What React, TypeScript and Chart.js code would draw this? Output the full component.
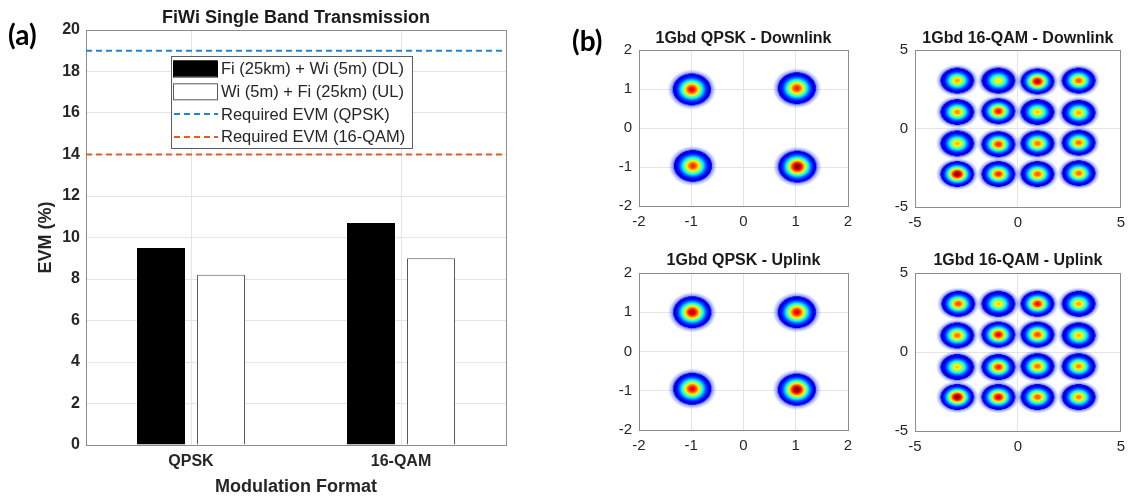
import React, { useEffect, useRef } from 'react';
import { Chart, registerables } from 'chart.js';

Chart.register(...registerables);

const FONT = "'Liberation Sans', Arial, Helvetica, sans-serif";
const TEXT = '#262626';
const AXIS = '#8c8c8c';
const GRID = '#e4e4e4';

// ---------- (a) EVM bar chart ----------
const CATEGORIES = ['QPSK', '16-QAM'];
const DL_LABEL = 'Fi (25km) + Wi (5m) (DL)';
const UL_LABEL = 'Wi (5m) + Fi (25km) (UL)';
const EVM_DL = [9.5, 10.7];
const EVM_UL = [8.2, 9.0];
const REQ_QPSK_LABEL = 'Required EVM (QPSK)';
const REQ_16QAM_LABEL = 'Required EVM (16-QAM)';
const REQ_EVM_QPSK = 19;
const REQ_EVM_16QAM = 14;
const EVM_MIN = 0;
const EVM_MAX = 20;
const EVM_STEP = 2;

// ---------- (b) constellations: cluster centres (I, Q) and relative peak density ----------
const QPSK_RANGE = 2;
const QPSK_STEP = 1;
const QAM16_RANGE = 5;
const QAM16_STEP = 5;

const QPSK_DL_CENTRES = [[-0.99, 0.99], [1.02, 1.02], [-0.97, -0.97], [1.03, -0.99]];
const QPSK_DL_PEAKS = [0.9, 0.85, 0.84, 1.0];
const QPSK_UL_CENTRES = [[-0.98, 1.0], [1.02, 1.0], [-0.98, -0.95], [1.02, -0.97]];
const QPSK_UL_PEAKS = [0.95, 0.9, 0.9, 1.0];
const QPSK_SPREAD = [0.36, 0.4];

const QAM16_DL_CENTRES = [
  [-2.95, 3.05], [-0.95, 3.05], [0.95, 3.0], [2.95, 3.05],
  [-2.95, 1.05], [-0.95, 1.1], [0.95, 1.05], [2.95, 1.0],
  [-2.95, -0.95], [-0.95, -1.0], [0.95, -0.95], [2.95, -0.9],
  [-2.95, -2.9], [-0.95, -2.9], [0.95, -2.9], [2.95, -2.85],
];
const QAM16_DL_PEAKS = [0.72, 0.65, 0.95, 0.8, 0.75, 0.88, 0.68, 0.72, 0.7, 0.85, 0.78, 0.78, 1.0, 0.85, 0.8, 0.78];
const QAM16_UL_CENTRES = [
  [-2.9, 3.05], [-0.95, 3.05], [0.95, 3.05], [2.95, 3.05],
  [-2.95, 1.05], [-0.95, 1.1], [0.95, 1.1], [2.95, 1.05],
  [-2.95, -0.95], [-0.95, -0.95], [0.95, -0.9], [2.95, -0.9],
  [-2.95, -2.85], [-0.95, -2.85], [0.95, -2.85], [2.95, -2.85],
];
const QAM16_UL_PEAKS = [0.82, 0.68, 0.88, 0.72, 0.78, 0.9, 0.82, 0.7, 0.68, 0.85, 0.78, 0.75, 1.0, 0.92, 0.8, 0.75];
const QAM16_SPREAD = [0.8, 0.8];

Chart.defaults.font.family = FONT;

function jet(v: number): string {
  const c = (t: number) => Math.round(255 * Math.min(1, Math.max(0, t)));
  return `rgb(${c(1.5 - Math.abs(4 * v - 3))},${c(1.5 - Math.abs(4 * v - 2))},${c(1.5 - Math.abs(4 * v - 1))})`;
}

const spriteCache = new Map<string, HTMLCanvasElement>();
function clusterSprite(peak: number, rx: number, ry: number): HTMLCanvasElement {
  const key = `${peak}|${rx.toFixed(2)}|${ry.toFixed(2)}`;
  const hit = spriteCache.get(key);
  if (hit) return hit;
  const HALO = 1.3;
  const hx = rx * HALO;
  const hy = ry * HALO;
  const c = document.createElement('canvas');
  c.width = Math.ceil(hx) * 2 + 2;
  c.height = Math.ceil(hy) * 2 + 2;
  const g = c.getContext('2d')!;
  g.translate(c.width / 2, c.height / 2);
  g.scale(1, ry / rx);
  const grad = g.createRadialGradient(0, 0, 0, 0, 0, hx);
  const N = 24;
  for (let i = 0; i <= N; i++) {
    const s = i / N;
    const v = Math.max(0.1, peak * Math.exp(-((s / 0.6) ** 2)));
    grad.addColorStop(s / HALO, jet(v));
  }
  grad.addColorStop(1 / HALO + 0.02, 'rgba(20,40,255,0.55)');
  grad.addColorStop(0.9, 'rgba(60,80,255,0.25)');
  grad.addColorStop(1, 'rgba(90,110,255,0)');
  g.fillStyle = grad;
  g.beginPath();
  g.arc(0, 0, hx, 0, Math.PI * 2);
  g.fill();
  spriteCache.set(key, c);
  return c;
}

// bar series (shared by the bar chart and the legend)
const BAR_SERIES = [
  { label: DL_LABEL, data: EVM_DL, backgroundColor: '#000000', borderColor: '#000000' },
  { label: UL_LABEL, data: EVM_UL, backgroundColor: '#ffffff', borderColor: '#5a5a5a' },
];

const boxLegend = {
  id: 'boxLegend',
  afterDraw(chart: any) {
    const ca = chart.chartArea;
    const ctx = chart.ctx;
    const x0 = ca.left + 85;
    const y0 = ca.top + 26;
    const w = 241;
    const h = 92;
    const items = [
      ...BAR_SERIES.map((s) => ({ ...s, type: 'bar' })),
      ...chart.data.datasets.map((d: any) => ({ ...d, type: 'line' })),
    ];
    ctx.save();
    ctx.fillStyle = '#ffffff';
    ctx.fillRect(x0, y0, w, h);
    ctx.strokeStyle = '#5e5e5e';
    ctx.lineWidth = 1;
    ctx.strokeRect(x0 + 0.5, y0 + 0.5, w, h);
    items.forEach((ds: any, i: number) => {
      const cy = y0 + 12.5 + i * 22.8;
      if (ds.type === 'line') {
        ctx.save();
        ctx.setLineDash(ds.borderDash || []);
        ctx.strokeStyle = ds.borderColor;
        ctx.lineWidth = ds.borderWidth;
        ctx.beginPath();
        ctx.moveTo(x0 + 3, cy);
        ctx.lineTo(x0 + 47, cy);
        ctx.stroke();
        ctx.restore();
      } else {
        ctx.fillStyle = ds.backgroundColor;
        ctx.fillRect(x0 + 2, cy - 8, 44, 16);
        ctx.strokeStyle = ds.borderColor;
        ctx.lineWidth = 1;
        ctx.strokeRect(x0 + 2.5, cy - 7.5, 44, 16);
      }
      ctx.fillStyle = TEXT;
      ctx.font = `16.5px ${FONT}`;
      ctx.textAlign = 'left';
      ctx.textBaseline = 'middle';
      ctx.fillText(ds.label, x0 + 50, cy + 1);
    });
    ctx.restore();
  },
};

const A_W = 560;
const A_H = 500;
const A_LEFT = 86;
const A_RIGHT_PAD = 54;
const A_TOP = 30;
const A_BOTTOM = 55;

function EvmBars() {
  const ref = useRef<HTMLCanvasElement>(null);
  const overlayRef = useRef<HTMLCanvasElement>(null);
  useEffect(() => {
    const tickFont = { family: FONT, size: 16, weight: 'bold' as const };
    const titleFont = { family: FONT, size: 18, weight: 'bold' as const };
    const chart = new Chart(ref.current!, {
      type: 'bar',
      data: {
        labels: CATEGORIES,
        datasets: BAR_SERIES.map((s) => ({
          ...s, borderWidth: 1, categoryPercentage: 0.5714, barPercentage: 0.8,
        })),
      },
      options: {
        animation: false,
        responsive: false,
        layout: { padding: { left: 0, right: A_RIGHT_PAD, top: 0, bottom: 0 } },
        plugins: { legend: { display: false }, tooltip: { enabled: false }, title: { display: false } },
        scales: {
          x: {
            type: 'category', offset: true,
            grid: { offset: false, color: GRID, drawTicks: false },
            border: { color: AXIS },
            ticks: { font: tickFont, color: TEXT, padding: 7 },
            title: { display: true, text: 'Modulation Format', font: titleFont, color: TEXT, padding: { top: 0, bottom: 2 } },
            afterFit: (s: any) => { s.height = A_BOTTOM; },
          },
          x2: {
            type: 'linear', position: 'top', offset: false, min: 0, max: 1,
            ticks: { display: false }, grid: { display: false, drawTicks: false },
            border: { color: AXIS },
            title: { display: true, text: 'FiWi Single Band Transmission', font: titleFont, color: '#1a1a1a', padding: { top: 7, bottom: 0 } },
            afterFit: (s: any) => { s.height = A_TOP; },
          },
          y: {
            type: 'linear', min: EVM_MIN, max: EVM_MAX,
            ticks: { stepSize: EVM_STEP, font: tickFont, color: TEXT, padding: 6 },
            grid: { color: GRID, drawTicks: false },
            border: { color: AXIS },
            title: { display: true, text: 'EVM (%)', font: titleFont, color: TEXT, padding: { top: 35, bottom: 0 } },
            afterFit: (s: any) => { s.width = A_LEFT; },
          },
          y2: {
            type: 'linear', position: 'right', min: EVM_MIN, max: EVM_MAX,
            ticks: { display: false }, grid: { display: false, drawTicks: false },
            border: { color: AXIS },
            afterFit: (s: any) => { s.width = 0; },
          },
        } as any,
      },
    });

    // required-EVM lines on a transparent overlay sharing the same plot area
    const reqLine = (v: number) => [
      { x: 0.5, y: v },
      { x: CATEGORIES.length + 0.5, y: v },
    ];
    const overlay = new Chart(overlayRef.current!, {
      type: 'line',
      data: {
        datasets: [
          { label: REQ_QPSK_LABEL, data: reqLine(REQ_EVM_QPSK), borderColor: '#1f84d6', borderDash: [6, 4], borderWidth: 2, pointRadius: 0 },
          { label: REQ_16QAM_LABEL, data: reqLine(REQ_EVM_16QAM), borderColor: '#e35a24', borderDash: [6, 4], borderWidth: 2, pointRadius: 0 },
        ],
      },
      options: {
        animation: false,
        responsive: false,
        layout: { padding: { left: A_LEFT, right: A_RIGHT_PAD, top: A_TOP, bottom: A_BOTTOM } },
        plugins: { legend: { display: false }, tooltip: { enabled: false } },
        scales: {
          x: { type: 'linear', display: false, min: 0.5, max: CATEGORIES.length + 0.5 },
          y: { type: 'linear', display: false, min: EVM_MIN, max: EVM_MAX },
        },
      },
      plugins: [boxLegend],
    });
    return () => {
      chart.destroy();
      overlay.destroy();
    };
  }, []);
  return (
    <>
      <canvas ref={ref} width={A_W} height={A_H} style={{ position: 'absolute', left: 0, top: 0 }} />
      <canvas ref={overlayRef} width={A_W} height={A_H} style={{ position: 'absolute', left: 0, top: 0 }} />
    </>
  );
}

type ConstProps = {
  left: number; top: number; width: number; height: number;
  title: string; centres: number[][]; peaks: number[]; spread: number[];
  range: number; step: number;
  yAxisW: number; topH: number; bottomH: number; padRight: number; titlePad: number;
};

function Constellation(p: ConstProps) {
  const ref = useRef<HTMLCanvasElement>(null);
  useEffect(() => {
    const tickFont = { family: FONT, size: 15 };
    const chart = new Chart(ref.current!, {
      type: 'scatter',
      data: {
        datasets: [
          {
            data: p.centres.map(([x, y], i) => ({ x, y, peak: p.peaks[i] })),
            pointRadius: 2,
            pointStyle: (ctx: any) => {
              const raw = ctx.raw;
              const xs = ctx.chart.scales && ctx.chart.scales.x;
              const ys = ctx.chart.scales && ctx.chart.scales.y;
              if (!raw || !xs || !ys) return 'circle';
              const rx = Math.abs(xs.getPixelForValue(p.spread[0]) - xs.getPixelForValue(0));
              const ry = Math.abs(ys.getPixelForValue(p.spread[1]) - ys.getPixelForValue(0));
              if (!isFinite(rx) || !isFinite(ry) || rx < 1 || ry < 1) return 'circle';
              return clusterSprite(raw.peak, rx, ry);
            },
          } as any,
        ],
      },
      options: {
        animation: false,
        responsive: false,
        layout: { padding: { left: 0, right: p.padRight, top: 0, bottom: 0 } },
        plugins: { legend: { display: false }, tooltip: { enabled: false } },
        scales: {
          x: {
            type: 'linear', min: -p.range, max: p.range,
            ticks: { stepSize: p.step, font: tickFont, color: TEXT, padding: 7 },
            grid: { color: GRID, drawTicks: false },
            border: { color: AXIS },
            afterFit: (s: any) => { s.height = p.bottomH; },
          },
          y: {
            type: 'linear', min: -p.range, max: p.range,
            ticks: { stepSize: p.step, font: tickFont, color: TEXT, padding: 7 },
            grid: { color: GRID, drawTicks: false },
            border: { color: AXIS },
            afterFit: (s: any) => { s.width = p.yAxisW; },
          },
          x2: {
            type: 'linear', position: 'top', min: -p.range, max: p.range,
            ticks: { display: false }, grid: { display: false, drawTicks: false },
            border: { color: AXIS },
            title: { display: true, text: p.title, font: { family: FONT, size: 16, weight: 'bold' }, color: '#1a1a1a', padding: { top: p.titlePad, bottom: 0 } },
            afterFit: (s: any) => { s.height = p.topH; },
          },
          y2: {
            type: 'linear', position: 'right', min: -p.range, max: p.range,
            ticks: { display: false }, grid: { display: false, drawTicks: false },
            border: { color: AXIS },
            afterFit: (s: any) => { s.width = 0; },
          },
        } as any,
      },
    });
    chart.update('none');
    return () => chart.destroy();
  }, []);
  return (
    <canvas ref={ref} width={p.width} height={p.height}
      style={{ position: 'absolute', left: p.left, top: p.top }} />
  );
}

export default function App() {
  const panelLabel = { position: 'absolute' as const, fontFamily: 'Lato, sans-serif', fontWeight: 700, fontSize: 28, lineHeight: '28px', color: '#000' };
  return (
    <div style={{ position: 'absolute', left: 0, top: 0, width: 1132, height: 500, background: '#fff', overflow: 'hidden' }}>
      <EvmBars />
      <Constellation left={590} top={0} width={280} height={240} title="1Gbd QPSK - Downlink"
        centres={QPSK_DL_CENTRES} peaks={QPSK_DL_PEAKS} spread={QPSK_SPREAD} range={QPSK_RANGE} step={QPSK_STEP}
        yAxisW={49} topH={50} bottomH={34} padRight={22} titlePad={28.5} />
      <Constellation left={870} top={0} width={262} height={240} title="1Gbd 16-QAM - Downlink"
        centres={QAM16_DL_CENTRES} peaks={QAM16_DL_PEAKS} spread={QAM16_SPREAD} range={QAM16_RANGE} step={QAM16_STEP}
        yAxisW={45} topH={50} bottomH={33} padRight={7} titlePad={28.5} />
      <Constellation left={590} top={240} width={280} height={260} title="1Gbd QPSK - Uplink"
        centres={QPSK_UL_CENTRES} peaks={QPSK_UL_PEAKS} spread={QPSK_SPREAD} range={QPSK_RANGE} step={QPSK_STEP}
        yAxisW={49} topH={33} bottomH={70} padRight={22} titlePad={11.4} />
      <Constellation left={870} top={240} width={262} height={260} title="1Gbd 16-QAM - Uplink"
        centres={QAM16_UL_CENTRES} peaks={QAM16_UL_PEAKS} spread={QAM16_SPREAD} range={QAM16_RANGE} step={QAM16_STEP}
        yAxisW={45} topH={33} bottomH={69} padRight={7} titlePad={11.4} />
      <div style={{ ...panelLabel, left: 8, top: 20 }}>(a)</div>
      <div style={{ ...panelLabel, left: 572, top: 26 }}>(b)</div>
    </div>
  );
}
